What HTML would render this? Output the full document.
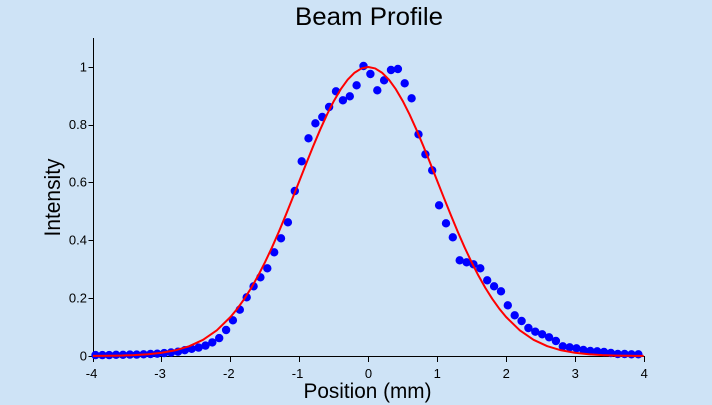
<!DOCTYPE html>
<html>
<head>
<meta charset="utf-8">
<style>
html,body{margin:0;padding:0;background:#cee3f6;}
svg{display:block;}
text{font-family:"Liberation Sans",Arial,sans-serif;fill:#000;}
</style>
</head>
<body>
<svg width="712" height="405" viewBox="0 0 712 405" xmlns="http://www.w3.org/2000/svg">
<rect width="712" height="405" fill="#cee3f6"/>
<text x="369" y="25" font-size="25" text-anchor="middle" textLength="148" lengthAdjust="spacingAndGlyphs">Beam Profile</text>
<text x="367.5" y="398" font-size="21" text-anchor="middle" textLength="128" lengthAdjust="spacingAndGlyphs">Position (mm)</text>
<text transform="translate(60,197.5) rotate(-90)" font-size="22" text-anchor="middle" textLength="78" lengthAdjust="spacingAndGlyphs">Intensity</text>
<path stroke="#000" stroke-width="1" fill="none" shape-rendering="crispEdges" d="M93.5 38V356.5H644.5 M88.5 356.5h5 M88.5 298.5h5 M88.5 240.5h5 M88.5 182.5h5 M88.5 125.5h5 M88.5 67.5h5 M93.5 356v6 M161.5 356v6 M230.5 356v6 M299.5 356v6 M368.5 356v6 M437.5 356v6 M506.5 356v6 M575.5 356v6 M644.5 356v6"/>
<g font-size="13" text-anchor="end">
<text x="87" y="360.5">0</text>
<text x="87" y="302.5">0.2</text>
<text x="87" y="244.5">0.4</text>
<text x="87" y="186.5">0.6</text>
<text x="87" y="129">0.8</text>
<text x="87" y="71.5">1</text>
</g>
<g font-size="13">
<text x="97.3" y="378" text-anchor="end">-4</text>
<text x="165.8" y="378" text-anchor="end">-3</text>
<text x="234.6" y="378" text-anchor="end">-2</text>
<text x="303.3" y="378" text-anchor="end">-1</text>
<text x="368.5" y="378" text-anchor="middle">0</text>
<text x="437.3" y="378" text-anchor="middle">1</text>
<text x="506.3" y="378" text-anchor="middle">2</text>
<text x="575.3" y="378" text-anchor="middle">3</text>
<text x="644.3" y="378" text-anchor="middle">4</text>
</g>
<path fill="none" stroke="#0000ff" stroke-width="8.4" stroke-linecap="round" d="M95.5 355.1h0M102.4 355.1h0M109.2 355.1h0M116.1 354.8h0M123 354.8h0M129.9 354.6h0M136.7 354.6h0M143.6 354.3h0M150.5 354h0M157.3 353.7h0M164.2 353.1h0M171.1 352.5h0M178 351.7h0M184.8 350.2h0M191.7 348.8h0M198.6 347.6h0M205.5 345.6h0M212.3 342.4h0M219.2 338.1h0M226.1 330h0M232.9 320.3h0M239.8 309.7h0M246.7 297.3h0M253.6 286.3h0M260.4 277.3h0M267.3 268.3h0M274.2 252.3h0M281 238.3h0M287.9 222.3h0M294.8 191h0M301.7 161.3h0M308.5 138.3h0M315.4 123.3h0M322.3 117h0M329.1 107h0M336 91.3h0M342.9 100.3h0M349.8 96.3h0M356.6 85.3h0M363.5 66h0M370.4 74h0M377.3 90.3h0M384.1 80.3h0M391 70h0M397.9 69h0M404.7 83.3h0M411.6 98.3h0M418.5 134.3h0M425.4 154.3h0M432.2 170.3h0M439.1 205.3h0M446 223.3h0M452.8 237.3h0M459.7 260.3h0M466.6 262.3h0M473.5 264.3h0M480.3 268.3h0M487.2 280.3h0M494.1 286.3h0M501 291.3h0M507.8 305.3h0M514.7 315.3h0M521.6 321h0M528.4 328h0M535.3 331.7h0M542.2 334.3h0M549.1 337.3h0M555.9 341h0M562.8 346.3h0M569.7 347.3h0M576.5 348.3h0M583.4 350h0M590.3 351h0M597.2 351.3h0M604 352h0M610.9 353h0M617.8 354h0M624.6 354h0M631.5 354.3h0M638.4 354.3h0"/>
<polyline fill="none" stroke="#ff0000" stroke-width="2" stroke-linejoin="round" points="92.9,355.91 106.67,355.8 120.44,355.57 134.21,355.1 147.98,354.27 161.75,352.79 175.52,350.28 189.29,346.17 203.06,339.79 216.83,330.31 230.6,316.9 237.48,308.46 244.37,298.81 251.25,287.88 258.14,275.66 265.02,262.16 271.91,247.54 278.79,231.85 285.68,215.31 292.56,198.18 299.45,180.72 306.33,163.24 313.22,146.16 320.1,129.8 326.99,114.6 333.87,100.96 340.76,89.22 347.64,79.72 354.53,72.72 361.41,68.44 368.3,67 375.19,68.44 382.07,72.72 388.96,79.72 395.84,89.22 402.73,100.96 409.61,114.6 416.5,129.8 423.38,146.16 430.27,163.24 437.15,180.72 444.04,198.18 450.92,215.31 457.81,231.85 464.69,247.54 471.58,262.16 478.46,275.66 485.35,287.88 492.23,298.81 499.12,308.46 506,316.9 519.77,330.31 533.54,339.79 547.31,346.17 561.08,350.28 574.85,352.79 588.62,354.27 602.39,355.1 616.16,355.57 629.93,355.8 643.7,355.91"/>
</svg>
</body>
</html>
